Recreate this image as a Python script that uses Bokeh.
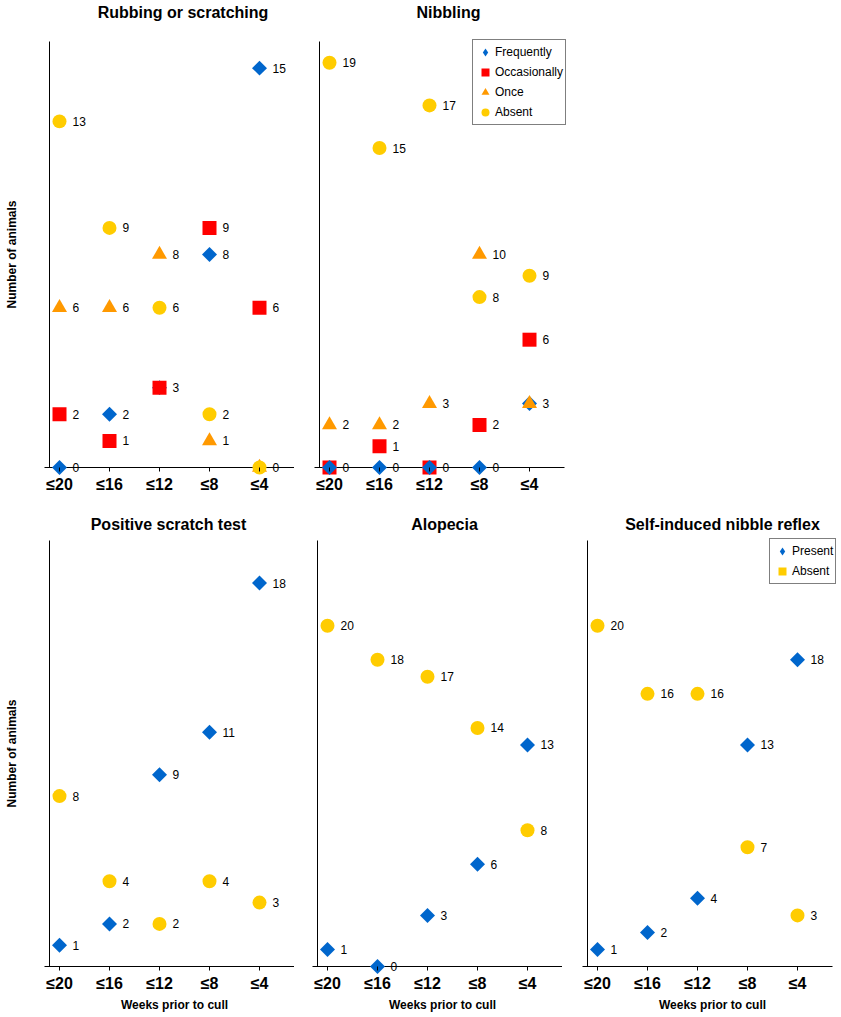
import math
from bokeh.plotting import figure
from bokeh.layouts import column, row
from bokeh.models import ColumnDataSource, FixedTicker, Label, Legend, LegendItem, Range1d
from bokeh.core.properties import value
from bokeh.embed import file_html
from bokeh.resources import INLINE

# ---------------- data ----------------
weeks = ["≤20", "≤16", "≤12", "≤8", "≤4"]

rub_frequently = [0, 2, 3, 8, 15]
rub_occasionally = [2, 1, 3, 9, 6]
rub_once = [6, 6, 8, 1, 0]
rub_absent = [13, 9, 6, 2, 0]

nib_frequently = [0, 0, 0, 0, 3]
nib_occasionally = [0, 1, 0, 2, 6]
nib_once = [2, 2, 3, 10, 3]
nib_absent = [19, 15, 17, 8, 9]

scratch_present = [1, 2, 9, 11, 18]
scratch_absent = [8, 4, 2, 4, 3]

alopecia_present = [1, 0, 3, 6, 13]
alopecia_absent = [20, 18, 17, 14, 8]

reflex_present = [1, 2, 4, 13, 18]
reflex_absent = [20, 16, 16, 7, 3]

# ---------------- styles / layout ----------------
FONT = "Liberation Sans"
BLUE = "#0066CC"
RED = "#FF0000"
ORANGE = "#FF9900"
YELLOW = "#FFCC00"

MARK = {
    "diamond": dict(marker="square", size=10.6, angle=math.pi / 4),
    "square": dict(marker="square", size=14, angle=0),
    "triangle": dict(marker="triangle", size=15, angle=0),
    "circle": dict(marker="circle", size=14, angle=0),
}
LEGEND_MARK = {"diamond": "diamond", "square": "square", "triangle": "triangle", "circle": "circle"}

PX_PER_CAT = 50.0
X_LO, X_HI = -0.3, 4.7   # extent of the x axis line
YAXIS_X = -0.2            # position of the y axis line
ZERO_TO_TOP = 426.0       # px between y = 0 and y max


def panel(title, series, ymax, width, left, height, zero_from_top, title_x, title_dy,
          legend_items=None, legend_loc=None, ylabel=None, xlabel=None):
    k = ZERO_TO_TOP / ymax
    x0 = X_LO - left / PX_PER_CAT
    p = figure(width=width, height=height,
               x_range=Range1d(x0, x0 + width / PX_PER_CAT),
               y_range=Range1d(-(height - zero_from_top) / k, zero_from_top / k),
               output_backend="svg", toolbar_location=None,
               min_border_left=0, min_border_right=0,
               min_border_top=0, min_border_bottom=0,
               outline_line_color=None, background_fill_color="white",
               border_fill_color="white")
    p.xgrid.visible = False
    p.ygrid.visible = False
    p.yaxis.visible = False

    # x axis through y = 0 (ticks and labels from the axis, line drawn separately)
    ax = p.xaxis[0]
    ax.fixed_location = 0
    ax.ticker = FixedTicker(ticks=list(range(len(weeks))))
    ax.major_label_overrides = {i: w for i, w in enumerate(weeks)}
    ax.axis_line_color = None
    ax.major_tick_line_color = "black"
    ax.major_tick_in = 0
    ax.major_tick_out = 4
    ax.minor_tick_line_color = None
    ax.major_label_standoff = 4
    ax.major_label_text_font = FONT
    ax.major_label_text_font_size = "16px"
    ax.major_label_text_font_style = "bold"
    ax.major_label_text_color = "black"

    p.segment(x0=X_LO, y0=0, x1=X_HI, y1=0, line_color="black", line_width=1)
    p.segment(x0=YAXIS_X, y0=0, x1=YAXIS_X, y1=ymax, line_color="black", line_width=1)

    renderers = {}
    seen = set()
    for name, vals, color, shape in series:
        xs = list(range(len(weeks)))
        src = ColumnDataSource(dict(x=xs, y=vals))
        m = MARK[shape]
        r = p.scatter(x="x", y="y", source=src, marker=m["marker"], size=m["size"],
                      angle=m["angle"], fill_color=color, line_color=None)
        renderers[name] = (r, shape)
        # value labels (one label where two series share the same point)
        lx, ly, lt = [], [], []
        for xi, v in zip(xs, vals):
            if (xi, v) in seen:
                continue
            seen.add((xi, v))
            lx.append(xi)
            ly.append(v)
            lt.append(str(v))
        p.text(x=lx, y=ly, text=lt, x_offset=13,
               text_baseline="middle", text_align="left",
               text_font=value(FONT), text_font_size="12px", text_color="black")

    if legend_items:
        items = []
        for label, color, shape in legend_items:
            if label in renderers and renderers[label][1] == shape and shape != "diamond":
                r = renderers[label][0]
            else:
                r = p.scatter(x=[float("nan")], y=[float("nan")], marker=LEGEND_MARK[shape],
                              fill_color=color, line_color=None)
            items.append(LegendItem(label=label, renderers=[r]))
        leg = Legend(items=items, location=legend_loc, margin=0, padding=2, spacing=0,
                     glyph_width=20, glyph_height=20, label_height=20, label_standoff=0,
                     label_text_font=FONT, label_text_font_size="12px",
                     label_text_color="black", label_text_baseline="middle",
                     border_line_color="black", border_line_width=1,
                     background_fill_color="white", background_fill_alpha=1)
        p.add_layout(leg)

    p.add_layout(Label(x=title_x, y=ymax, y_offset=title_dy, text=title,
                       text_align="center", text_baseline="alphabetic",
                       text_font=FONT, text_font_size="16px", text_font_style="bold",
                       text_color="black"))
    if ylabel:
        p.add_layout(Label(x=YAXIS_X, y=ymax / 2, x_offset=-37.5, text=ylabel,
                           angle=math.pi / 2, text_align="center", text_baseline="middle",
                           text_font=FONT, text_font_size="12px", text_font_style="bold",
                           text_color="black"))
    if xlabel:
        p.add_layout(Label(x=2.3, y=0, y_offset=-38, text=xlabel,
                           text_align="center", text_baseline="alphabetic",
                           text_font=FONT, text_font_size="12px", text_font_style="bold",
                           text_color="black"))
    return p


TOP_H, TOP_ZERO = 505, 467
BOT_H, BOT_ZERO = 510, 461

p_rub = panel("Rubbing or scratching",
              [("Frequently", rub_frequently, BLUE, "diamond"),
               ("Occasionally", rub_occasionally, RED, "square"),
               ("Once", rub_once, ORANGE, "triangle"),
               ("Absent", rub_absent, YELLOW, "circle")],
              16, 294, 44, TOP_H, TOP_ZERO, 2.47, 29,
              ylabel="Number of animals")

p_nib = panel("Nibbling",
              [("Occasionally", nib_occasionally, RED, "square"),
               ("Frequently", nib_frequently, BLUE, "diamond"),
               ("Once", nib_once, ORANGE, "triangle"),
               ("Absent", nib_absent, YELLOW, "circle")],
              20, 274, 20, TOP_H, TOP_ZERO, 2.38, 29,
              legend_items=[("Frequently", BLUE, "diamond"),
                            ("Occasionally", RED, "square"),
                            ("Once", ORANGE, "triangle"),
                            ("Absent", YELLOW, "circle")],
              legend_loc=(178, 380))

p_scr = panel("Positive scratch test",
              [("Present", scratch_present, BLUE, "diamond"),
               ("Absent", scratch_absent, YELLOW, "circle")],
              20, 294, 44, BOT_H, BOT_ZERO, 2.18, 16,
              ylabel="Number of animals", xlabel="Weeks prior to cull")

p_alo = panel("Alopecia",
              [("Present", alopecia_present, BLUE, "diamond"),
               ("Absent", alopecia_absent, YELLOW, "circle")],
              25, 268, 18, BOT_H, BOT_ZERO, 2.34, 16,
              xlabel="Weeks prior to cull")

p_ref = panel("Self-induced nibble reflex",
              [("Present", reflex_present, BLUE, "diamond"),
               ("Absent", reflex_absent, YELLOW, "circle")],
              25, 275, 20, BOT_H, BOT_ZERO, 2.5, 16,
              legend_items=[("Present", BLUE, "diamond"),
                            ("Absent", YELLOW, "square")],
              legend_loc=(207, 431),
              xlabel="Weeks prior to cull")

layout = column(row(p_rub, p_nib), row(p_scr, p_alo, p_ref))

open("out.html", "w").write(file_html(layout, INLINE))
